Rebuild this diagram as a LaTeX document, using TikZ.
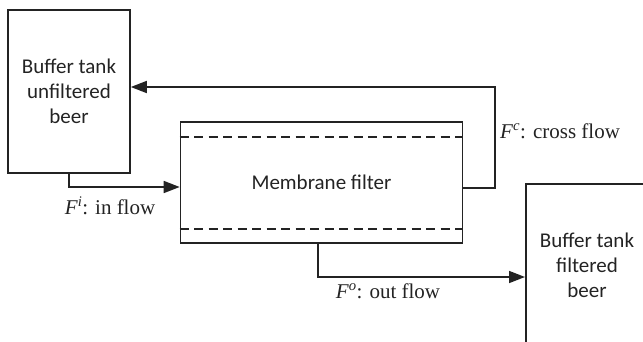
\documentclass[tikz,border=0pt]{standalone}
\usepackage{fontspec}
\setmainfont{Liberation Serif}
\newfontfamily\boxfont{Carlito}
\usetikzlibrary{arrows.meta,calc}
\definecolor{ink}{RGB}{35,35,35}
\tikzset{
  tank/.style={draw=ink, line width=1.6pt, align=center, text=ink,
    font=\boxfont\fontsize{21}{25}\selectfont, inner sep=0pt},
  flow/.style={draw=ink, line width=1.6pt, -{Triangle[length=16pt,width=12pt]}},
  membrane/.style={draw=ink, line width=1.6pt, dash pattern=on 9pt off 5.5pt},
  lbl/.style={text=ink, font=\fontsize{21}{25}\selectfont, inner sep=0pt}
}
\begin{document}
\begin{tikzpicture}[x=1pt,y=-1pt]
\useasboundingbox (0,0) rectangle (643,341);
\clip (0,0) rectangle (643,341);
\node[tank, minimum width=122pt, minimum height=163pt] (ltank) at (69,91.5)
  {Buffer tank\\unfiltered\\beer};
\node[tank, minimum width=282pt, minimum height=121pt] (mf) at (321.5,182.5)
  {Membrane filter};
\node[tank, minimum width=124pt, minimum height=220pt, anchor=north west] (rtank) at (525,183) {};
\node[tank, draw=none] (rtext) at (587,265) {Buffer tank\\filtered\\beer};
\draw[membrane] ($(mf.north west)+(0,16)$) -- ($(mf.north east)+(0,16)$);
\draw[membrane] ($(mf.south west)+(0,-15)$) -- ($(mf.south east)+(0,-15)$);
\coordinate (cf) at (495,87);
\coordinate (of) at (318,277);
\draw[flow] (ltank.south) |- ([yshift=-4.5pt]mf.west);
\draw[flow] ([yshift=-5.5pt]mf.east) -| (cf) -- (ltank.east |- cf);
\draw[flow] ([xshift=-3.5pt]mf.south) -- (of) -- (rtank.west |- of);
\node[lbl] (lin) at (110,206) {\textit{F}\textsuperscript{\textit{i}}: in flow};
\node[lbl, anchor=west] (lcross) at (500,131) {\textit{F}\textsuperscript{\textit{c}}: cross flow};
\node[lbl] (lout) at (388,291) {\textit{F}\textsuperscript{\textit{o}}: out flow};
\end{tikzpicture}
\end{document}
